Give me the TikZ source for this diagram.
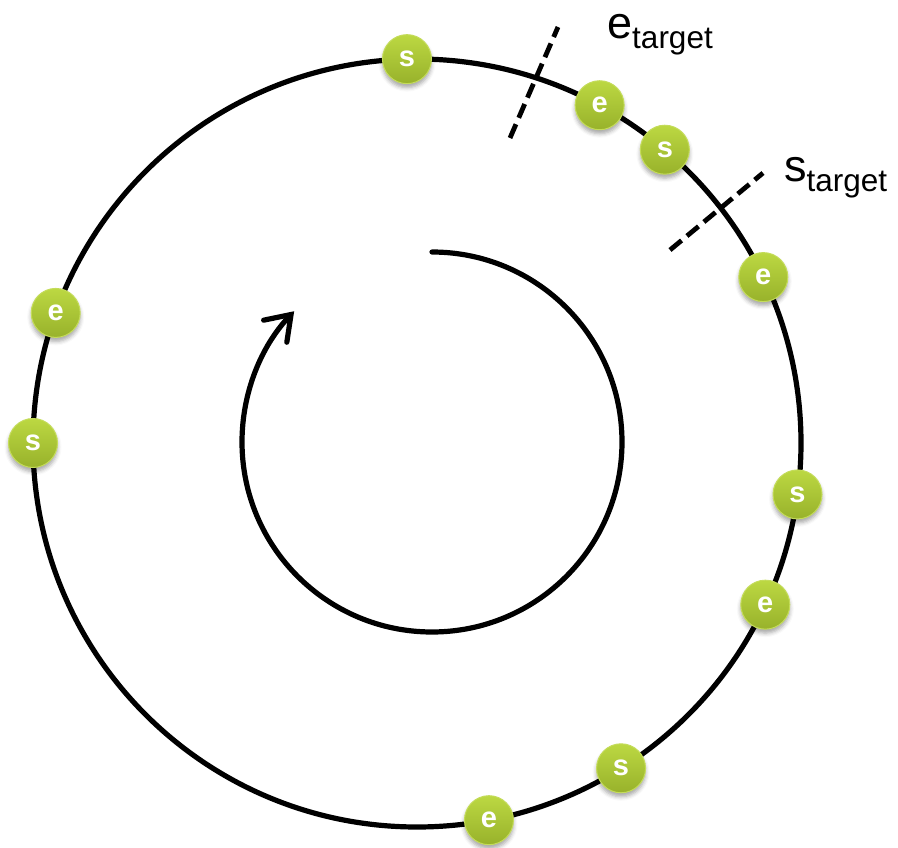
\documentclass[tikz,border=0pt]{standalone}
\usepackage{fontspec}
\setmainfont{Liberation Sans}
\usetikzlibrary{arrows.meta,shadows.blur,calc}
\definecolor{ballTop}{HTML}{BCD842}
\definecolor{ballBot}{HTML}{98B22B}
\definecolor{ballRim}{HTML}{C4DC5A}
\tikzset{
 ring/.style={line width=5.2pt, black},
 ball/.style={circle, minimum size=49pt, inner sep=0pt, top color=ballTop, bottom color=ballBot,
   draw=ballRim, line width=1pt, text=white, font=\bfseries\fontsize{29}{29}\selectfont,
   blur shadow={shadow xshift=0pt, shadow yshift=-4pt, shadow blur radius=4pt, shadow opacity=35}},
 cut/.style={line width=4.8pt, dash pattern=on 15pt off 7pt},
 lbl/.style={inner sep=0pt, anchor=base west}
}
\newcommand{\mainlet}[1]{{\fontsize{45}{45}\selectfont #1}}
\newcommand{\sublet}[1]{\raisebox{-10pt}{\fontsize{31.5}{31.5}\selectfont #1}}
\begin{document}
\begin{tikzpicture}[x=1pt,y=-1pt]
\useasboundingbox (0,0) rectangle (898,848);
\coordinate (O) at (417,443);
\coordinate (C) at (432,442);
% outer ring
\draw[ring] (O) circle[radius=384pt];
% inner rotation arrow
\draw[ring, line cap=round, -{Straight Barb[length=23pt,width=32pt,line cap=round]}]
  (432,252) arc[start angle=90, end angle=-223.5, radius=190pt];
% cut lines
\coordinate (e1) at (510,138); \coordinate (e2) at (558,27);
\coordinate (s1) at (670,250); \coordinate (s2) at (763,173);
\draw[cut] (e1) -- (e2);
\draw[cut] (s1) -- (s2);
% labels
\node[lbl] (etarget) at (607,39) {\mainlet{e}\sublet{target}};
\node[lbl] (starget) at (784,182) {\mainlet{s}\sublet{target}};
% balls
\node[ball] (b1) at ($(O)+(-91.5:384)$) {s};
\node[ball] (b2) at ($(O)+(-61.6:384)$) {e};
\node[ball] (b3) at ($(O)+(-49.8:384)$) {s};
\node[ball] (b4) at ($(O)+(-25.6:384)$) {e};
\node[ball] (b5) at ($(O)+(-160.2:384)$) {e};
\node[ball] (b6) at ($(O)+(-180:384)$) {s};
\node[ball] (b7) at ($(O)+(7.7:384)$) {s};
\node[ball] (b8) at ($(O)+(24.9:384)$) {e};
\node[ball] (b9) at ($(O)+(57.9:384)$) {s};
\node[ball] (b10) at ($(O)+(79.2:384)$) {e};
\end{tikzpicture}
\end{document}
